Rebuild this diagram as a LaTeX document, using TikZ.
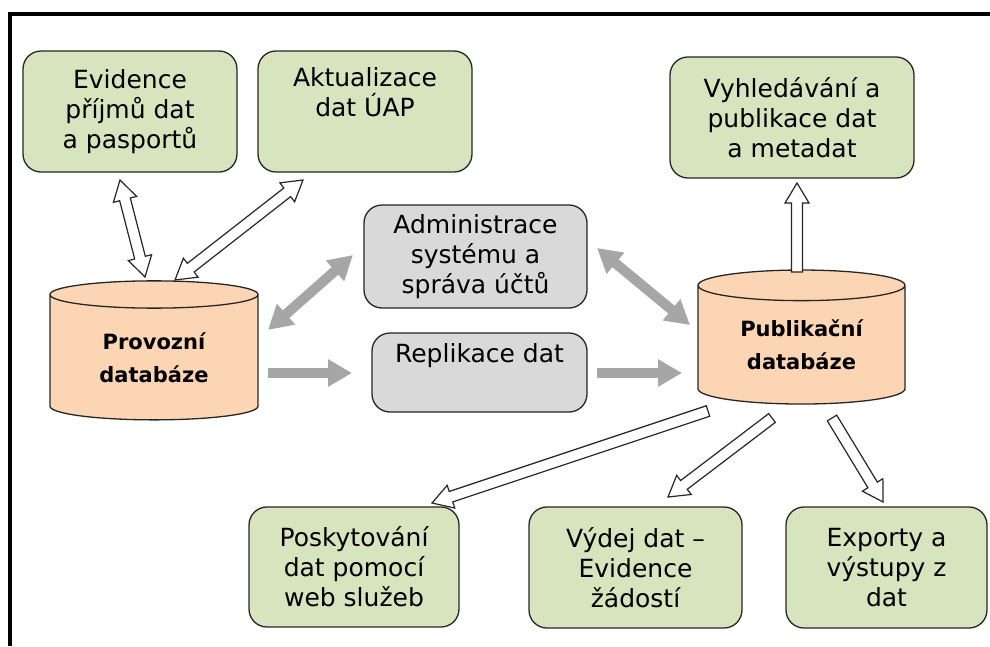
\documentclass[tikz,border=0pt]{standalone}
\usepackage{fontspec}
\setmainfont{DejaVu Sans}
\usepackage{tikz}
\usetikzlibrary{calc}
\usetikzlibrary{arrows.meta}
\usetikzlibrary{shapes.geometric}

\definecolor{boxgreen}{HTML}{D7E4BD}
\definecolor{boxgray}{HTML}{D9D9D9}
\definecolor{dbpeach}{HTML}{FCD5B5}
\definecolor{arrowgray}{HTML}{A6A6A6}

\newcommand{\arrsw}{5.5pt}
\newcommand{\arrhw}{12pt}
\newcommand{\arrhl}{20pt}

\newcommand{\fatarrow}[2]{%
  \draw[hollow] let \p1=(#1), \p2=(#2), \n1={atan2(\y2-\y1,\x2-\x1)} in
    ($(\p1)+(\n1+90:\arrsw)$) -- ($(\p2)+(\n1+180:\arrhl)+(\n1+90:\arrsw)$)
    -- ($(\p2)+(\n1+180:\arrhl)+(\n1+90:\arrhw)$) -- (\p2)
    -- ($(\p2)+(\n1+180:\arrhl)+(\n1-90:\arrhw)$) -- ($(\p2)+(\n1+180:\arrhl)+(\n1-90:\arrsw)$)
    -- ($(\p1)+(\n1-90:\arrsw)$) -- cycle;}

\newcommand{\fatdarrow}[2]{%
  \draw[hollow] let \p1=(#1), \p2=(#2), \n1={atan2(\y2-\y1,\x2-\x1)} in
    (\p1) -- ($(\p1)+(\n1:\arrhl)+(\n1+90:\arrhw)$) -- ($(\p1)+(\n1:\arrhl)+(\n1+90:\arrsw)$)
    -- ($(\p2)+(\n1+180:\arrhl)+(\n1+90:\arrsw)$) -- ($(\p2)+(\n1+180:\arrhl)+(\n1+90:\arrhw)$)
    -- (\p2) -- ($(\p2)+(\n1+180:\arrhl)+(\n1-90:\arrhw)$) -- ($(\p2)+(\n1+180:\arrhl)+(\n1-90:\arrsw)$)
    -- ($(\p1)+(\n1:\arrhl)+(\n1-90:\arrsw)$) -- ($(\p1)+(\n1:\arrhl)+(\n1-90:\arrhw)$) -- cycle;}

\begin{document}
\begin{tikzpicture}[x=1pt,y=-1pt,>={Triangle[length=24pt,width=26pt]},
    task/.style={draw=black!85, line width=1.3pt, rounded corners=18pt, fill=boxgreen,
      align=center, font=\fontsize{25}{30}\selectfont, inner sep=0pt},
    admin/.style={task, fill=boxgray},
    db/.style={cylinder, shape border rotate=90, aspect=0.25, draw=black!85, line width=1.3pt,
      fill=dbpeach, align=center, font=\fontsize{21}{33}\selectfont\bfseries, inner sep=0pt},
    hollow/.style={draw=black!85, fill=white, line width=1.2pt},
    flow/.style={draw=arrowgray, line width=10pt}]
      \useasboundingbox (0,0) rectangle (990,646);
      \draw[line width=3.5pt] (10,646) -- (10,14) -- (990,14);

      \node[task, minimum width=214pt, minimum height=121pt] (ev) at (130,111.5) {Evidence\\příjmů dat\\a pasportů};
      \node[task, minimum width=214pt, minimum height=121pt] (akt) at (365,111.5) {Aktualizace\\dat ÚAP\\\strut};
      \node[task, minimum width=244pt, minimum height=121pt] (vyh) at (792,117.5) {Vyhledávání a\\publikace dat\\a metadat};
      \node[admin, minimum width=223pt, minimum height=103pt] (adm) at (475.5,256.5) {Administrace\\systému a\\správa účtů};
      \node[admin, minimum width=215pt, minimum height=79pt] (rep) at (479.5,372.5) {Replikace dat\\\strut};
      \node[task, minimum width=210pt, minimum height=120pt] (pos) at (354,567) {Poskytování\\dat pomocí\\web služeb};
      \node[task, minimum width=213pt, minimum height=121pt] (vyd) at (635.5,567.5) {Výdej dat –\\Evidence\\žádostí};
      \node[task, minimum width=201pt, minimum height=121pt] (exp) at (886.5,567.5) {Exporty a\\výstupy z\\dat};
      \node[db, minimum width=208pt, minimum height=139pt] (prov) at (154,357.5) {Provozní\\databáze};
      \node[db, minimum width=207pt, minimum height=134pt] (pub) at (801.5,345) {Publikační\\databáze};

      \coordinate (ev-a) at (120,180);
      \coordinate (prov-a) at (145,277);
      \coordinate (akt-a) at (303,180);
      \coordinate (prov-b) at (175,280);
      \coordinate (prov-c) at (268,330);
      \coordinate (prov-d) at (268,373);
      \coordinate (adm-a) at (353,255);
      \coordinate (adm-b) at (597,248);
      \coordinate (rep-a) at (352,373);
      \coordinate (rep-b) at (597,373);
      \coordinate (pub-a) at (797,272);
      \coordinate (pub-b) at (708,411);
      \coordinate (pub-c) at (772,418);
      \coordinate (pub-d) at (832,418);
      \coordinate (pub-e) at (690,325);
      \coordinate (pub-f) at (682,373);
      \coordinate (vyh-a) at (797,183);
      \coordinate (pos-a) at (432,503);
      \coordinate (vyd-a) at (668,497);
      \coordinate (exp-a) at (883,502);

      \fatdarrow{ev-a}{prov-a}
      \fatdarrow{akt-a}{prov-b}
      \fatarrow{pub-a}{vyh-a}
      \fatarrow{pub-b}{pos-a}
      \fatarrow{pub-c}{vyd-a}
      \fatarrow{pub-d}{exp-a}

      \draw[flow,<->] (prov-c) -- (adm-a);
      \draw[flow,<->] (adm-b) -- (pub-e);
      \draw[flow,->] (prov-d) -- (rep-a);
      \draw[flow,->] (rep-b) -- (pub-f);
    \end{tikzpicture}
\end{document}
